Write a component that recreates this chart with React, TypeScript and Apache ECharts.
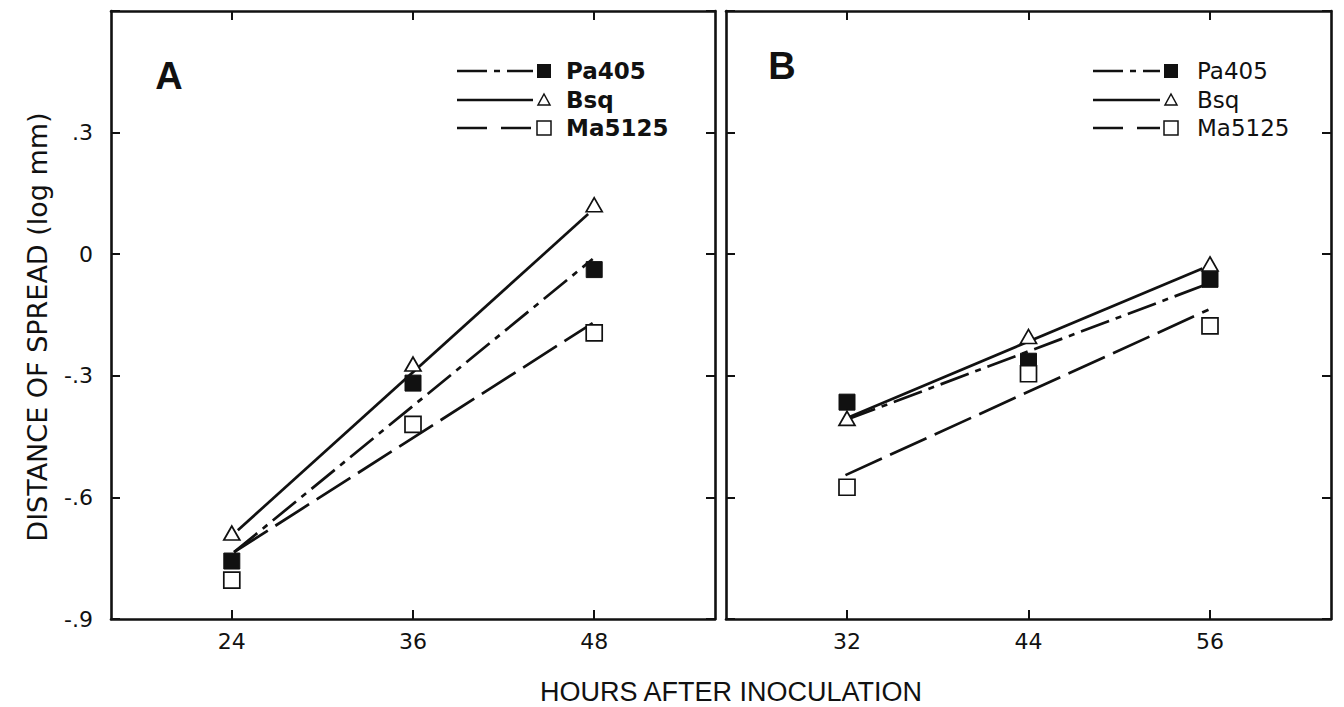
import React, { useEffect, useRef } from "react";
import * as echarts from "echarts";

// ---- Data ----
const hoursA = [24, 36, 48];
const hoursB = [32, 44, 56];

const pa405A = [-0.757, -0.318, -0.038];
const bsqA = [-0.688, -0.271, 0.122];
const ma5125A = [-0.804, -0.42, -0.194];

const pa405B = [-0.365, -0.264, -0.062];
const bsqB = [-0.405, -0.203, -0.024];
const ma5125B = [-0.575, -0.295, -0.177];

// fitted line end points [hour, value]
const fitPa405A = [[24.15, -0.735], [47.9, -0.012]];
const fitBsqA = [[24.4, -0.681], [47.6, 0.099]];
const fitMa5125A = [[24.15, -0.735], [47.9, -0.17]];

const fitPa405B = [[32, -0.408], [55.8, -0.074]];
const fitBsqB = [[32, -0.404], [55.5, -0.035]];
const fitMa5125B = [[31.9, -0.545], [55.9, -0.137]];

const xTicksA = [24, 36, 48];
const xTicksB = [32, 44, 56];
const yTickLabels: Record<string, string> = {
  "-0.9": "-.9",
  "-0.6": "-.6",
  "-0.3": "-.3",
  "0.0": "0",
  "0.3": ".3",
  "0.6": "",
};

const seriesNames = ["Pa405", "Bsq", "Ma5125"];

const INK = "#111111";
const FONT = "DejaVu Sans, sans-serif";

const DASH_DOT = [30, 7, 6, 7];
const DASH_LONG = [40, 9];

function pair(xs: number[], ys: number[]) {
  return xs.map((x, i) => [x, ys[i]]);
}

export default function App() {
  const ref = useRef<HTMLDivElement>(null);

  useEffect(() => {
    document.body.style.margin = "0";
    if (!ref.current) return;
    const chart = echarts.init(ref.current, null, { renderer: "svg" });

    const grids = [
      { left: 111, top: 11, width: 604, height: 608 },
      { left: 726, top: 11, width: 605, height: 608 },
    ];

    const tickStyle = { show: true, inside: true, length: 9, lineStyle: { color: INK, width: 2 } };
    const axisLine = { show: true, onZero: false, lineStyle: { color: INK, width: 2.6 } };

    const makeX = (gi: number, pos: "bottom" | "top", min: number, max: number, ticks: number[]) => ({
      type: "value",
      gridIndex: gi,
      position: pos,
      min,
      max,
      axisLine,
      splitLine: { show: false },
      axisTick: { ...tickStyle, customValues: ticks },
      axisLabel: {
        show: pos === "bottom",
        customValues: ticks,
        color: INK,
        fontFamily: FONT,
        fontSize: 22,
        margin: 11,
      },
    });

    const makeY = (gi: number, pos: "left" | "right", labels: boolean) => ({
      type: "value",
      gridIndex: gi,
      position: pos,
      min: -0.9,
      max: 0.6,
      interval: 0.3,
      axisLine,
      splitLine: { show: false },
      axisTick: tickStyle,
      axisLabel: {
        show: labels,
        color: INK,
        fontFamily: FONT,
        fontSize: 22,
        margin: 18,
        formatter: (v: number) => {
          const k = v.toFixed(1) === "-0.0" ? "0.0" : v.toFixed(1);
          return yTickLabels[k] ?? "";
        },
      },
    });

    const lineSeries = (name: string, data: number[][], dash: any, xi: number, yi: number) => ({
      name,
      type: "line",
      xAxisIndex: xi,
      yAxisIndex: yi,
      data,
      showSymbol: false,
      symbol: "none",
      silent: true,
      z: 2,
      lineStyle: { color: INK, width: 2.7, type: dash, cap: "butt", opacity: 1 },
    });

    const pointSeries = (name: string, data: number[][], kind: string, xi: number, yi: number) => ({
      name,
      type: "scatter",
      xAxisIndex: xi,
      yAxisIndex: yi,
      data,
      z: 3,
      symbol: kind === "tri" ? "triangle" : "rect",
      symbolSize: kind === "tri" ? [16, 14] : 16,
      itemStyle:
        kind === "filled"
          ? { color: INK, borderColor: INK, borderWidth: 1, opacity: 1 }
          : { color: "#fff", borderColor: INK, borderWidth: 1.7, opacity: 1 },
    });

    // legend drawing (decoration)
    const legendRows = [71, 100, 128];
    const legendGraphic = (lineX1: number, lineX2: number, markX: number, textX: number, bold: boolean) => {
      const els: any[] = [];
      const dashes = [DASH_DOT, null, [30, 14]];
      legendRows.forEach((y, i) => {
        els.push({
          type: "line",
          shape: { x1: lineX1, y1: y, x2: lineX2, y2: y },
          style: { stroke: INK, lineWidth: 2.5, lineDash: dashes[i] || undefined },
        });
        if (i === 0) {
          els.push({ type: "rect", shape: { x: markX - 7, y: y - 7, width: 14, height: 14 }, style: { fill: INK } });
        } else if (i === 1) {
          els.push({
            type: "polygon",
            shape: { points: [[markX, y - 6], [markX + 6, y + 5], [markX - 6, y + 5]] },
            style: { fill: "#fff", stroke: INK, lineWidth: 1.5 },
          });
        } else {
          els.push({
            type: "rect",
            shape: { x: markX - 7, y: y - 7, width: 14, height: 14 },
            style: { fill: "#fff", stroke: INK, lineWidth: 1.5 },
          });
        }
        els.push({
          type: "text",
          x: textX,
          y,
          style: {
            text: seriesNames[i],
            fill: INK,
            font: `${bold ? "bold " : ""}23px DejaVu Sans, sans-serif`,
            align: "left",
            verticalAlign: "middle",
          },
        });
      });
      return els;
    };

    const option: any = {
      animation: false,
      backgroundColor: "#fff",
      grid: grids,
      xAxis: [
        makeX(0, "bottom", 16, 56, xTicksA),
        makeX(0, "top", 16, 56, xTicksA),
        makeX(1, "bottom", 24, 64, xTicksB),
        makeX(1, "top", 24, 64, xTicksB),
      ],
      yAxis: [makeY(0, "left", true), makeY(0, "right", false), makeY(1, "left", false), makeY(1, "right", false)],
      series: [
        lineSeries("Pa405 fit A", fitPa405A, DASH_DOT, 0, 0),
        lineSeries("Bsq fit A", fitBsqA, "solid", 0, 0),
        lineSeries("Ma5125 fit A", fitMa5125A, DASH_LONG, 0, 0),
        pointSeries("Pa405", pair(hoursA, pa405A), "filled", 0, 0),
        pointSeries("Bsq", pair(hoursA, bsqA), "tri", 0, 0),
        pointSeries("Ma5125", pair(hoursA, ma5125A), "open", 0, 0),
        lineSeries("Pa405 fit B", fitPa405B, DASH_DOT, 2, 2),
        lineSeries("Bsq fit B", fitBsqB, "solid", 2, 2),
        lineSeries("Ma5125 fit B", fitMa5125B, DASH_LONG, 2, 2),
        pointSeries("Pa405 B", pair(hoursB, pa405B), "filled", 2, 2),
        pointSeries("Bsq B", pair(hoursB, bsqB), "tri", 2, 2),
        pointSeries("Ma5125 B", pair(hoursB, ma5125B), "open", 2, 2),
      ],
      graphic: [
        {
          type: "text",
          x: 169,
          y: 76,
          style: { text: "A", fill: INK, font: "bold 38px Liberation Sans, Arial, sans-serif", align: "center", verticalAlign: "middle" },
        },
        {
          type: "text",
          x: 782,
          y: 66,
          style: { text: "B", fill: INK, font: "bold 38px Liberation Sans, Arial, sans-serif", align: "center", verticalAlign: "middle" },
        },
        {
          type: "text",
          x: 37,
          y: 327,
          rotation: Math.PI / 2,
          style: {
            text: "DISTANCE OF SPREAD (log mm)",
            fill: INK,
            font: "27px DejaVu Sans, sans-serif",
            align: "center",
            verticalAlign: "middle",
          },
        },
        {
          type: "text",
          x: 731,
          y: 692,
          style: {
            text: "HOURS AFTER INOCULATION",
            fill: INK,
            font: "27px Liberation Sans, Arial, sans-serif",
            align: "center",
            verticalAlign: "middle",
          },
        },
        ...legendGraphic(457, 533, 544, 566, true),
        ...legendGraphic(1093, 1160, 1171, 1197, false),
      ],
    };

    chart.setOption(option);
    return () => chart.dispose();
  }, []);

  return <div ref={ref} style={{ width: 1344, height: 707 }} />;
}
